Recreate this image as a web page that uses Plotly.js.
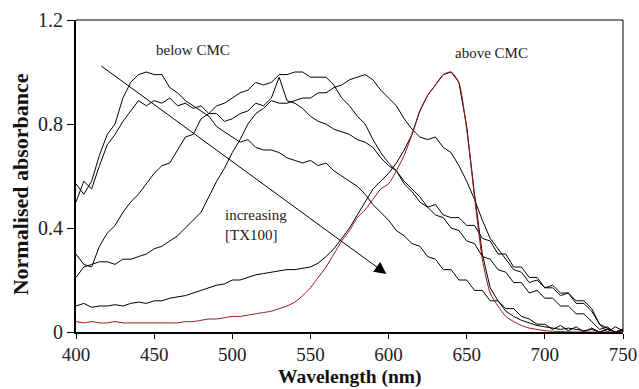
<!DOCTYPE html>
<html>
<head>
<meta charset="utf-8">
<script src="https://cdn.plot.ly/plotly-3.0.1.min.js"></script>
<style>html,body{margin:0;padding:0;background:#fff;}#chart{width:639px;height:389px;}</style>
</head>
<body>
<div id="chart"></div>
<script>
// Wavelength grid (nm)
const wavelength = [400,405,410,415,420,425,430,435,440,445,450,455,460,465,470,475,480,485,490,495,500,505,510,515,520,525,530,535,540,545,550,555,560,565,570,575,580,585,590,595,600,605,610,615,620,625,630,635,640,645,650,655,660,665,670,675,680,685,690,695,700,705,710,715,720,725,730,735,740,745,750];

// Normalised absorbance, below CMC -> above CMC (increasing [TX100])
const seriesA = [0.57,0.53,0.58,0.68,0.76,0.80,0.90,0.96,0.99,1.00,0.99,0.99,0.94,0.92,0.89,0.87,0.85,0.83,0.79,0.77,0.75,0.73,0.74,0.71,0.70,0.70,0.69,0.67,0.66,0.65,0.66,0.64,0.65,0.62,0.60,0.58,0.56,0.53,0.49,0.46,0.43,0.39,0.37,0.34,0.33,0.29,0.28,0.24,0.24,0.20,0.20,0.16,0.16,0.12,0.12,0.09,0.09,0.06,0.05,0.03,0.03,0.01,0.025,0.005,0.02,0.0,0.015,0.0,0.012,0.0,0.01];
const seriesB = [0.50,0.58,0.55,0.64,0.72,0.76,0.81,0.85,0.89,0.87,0.89,0.88,0.90,0.87,0.88,0.86,0.87,0.84,0.84,0.81,0.82,0.84,0.85,0.88,0.87,0.90,0.98,0.89,0.88,0.86,0.83,0.81,0.80,0.78,0.77,0.76,0.74,0.73,0.71,0.67,0.64,0.62,0.57,0.54,0.50,0.48,0.45,0.44,0.40,0.39,0.35,0.34,0.29,0.28,0.24,0.23,0.19,0.19,0.15,0.16,0.13,0.13,0.10,0.10,0.07,0.07,0.04,0.01,0.02,-0.005,0.01];
const seriesC = [0.30,0.26,0.25,0.33,0.38,0.41,0.46,0.50,0.53,0.57,0.61,0.64,0.65,0.70,0.75,0.76,0.82,0.84,0.87,0.88,0.90,0.92,0.93,0.96,0.95,0.96,0.99,0.99,1.00,1.00,0.98,0.98,0.98,0.95,0.90,0.87,0.83,0.80,0.74,0.69,0.65,0.62,0.58,0.55,0.52,0.48,0.49,0.45,0.44,0.44,0.41,0.41,0.36,0.35,0.30,0.30,0.25,0.25,0.21,0.21,0.17,0.17,0.14,0.15,0.11,0.11,0.08,0.03,0.0,0.02,0.005];
const seriesD = [0.21,0.25,0.26,0.27,0.27,0.26,0.28,0.28,0.29,0.30,0.32,0.33,0.35,0.37,0.40,0.43,0.46,0.52,0.58,0.63,0.69,0.74,0.80,0.84,0.86,0.89,0.88,0.88,0.89,0.90,0.90,0.92,0.92,0.94,0.95,0.97,0.98,0.99,0.97,0.93,0.90,0.87,0.82,0.78,0.75,0.74,0.75,0.71,0.69,0.64,0.58,0.51,0.43,0.36,0.32,0.28,0.24,0.23,0.19,0.20,0.17,0.18,0.15,0.15,0.12,0.12,0.09,0.03,0.015,0.0,0.005];
const seriesE = [0.10,0.11,0.095,0.10,0.10,0.105,0.10,0.11,0.115,0.11,0.12,0.12,0.13,0.135,0.14,0.15,0.16,0.17,0.18,0.185,0.20,0.20,0.21,0.22,0.225,0.23,0.235,0.24,0.24,0.245,0.25,0.265,0.29,0.32,0.36,0.40,0.45,0.50,0.55,0.58,0.61,0.65,0.70,0.76,0.85,0.91,0.95,0.99,1.00,0.96,0.79,0.53,0.30,0.17,0.12,0.08,0.06,0.045,0.035,0.025,0.02,0.015,0.01,0.015,0.01,0.005,0.01,0.0,0.01,0.0,0.01];
const seriesAbove = [0.04,0.035,0.04,0.035,0.035,0.04,0.035,0.035,0.035,0.035,0.035,0.035,0.035,0.035,0.04,0.04,0.045,0.05,0.05,0.055,0.06,0.06,0.065,0.07,0.075,0.08,0.09,0.10,0.115,0.14,0.17,0.21,0.25,0.30,0.35,0.39,0.44,0.47,0.51,0.55,0.57,0.62,0.68,0.76,0.85,0.91,0.95,0.99,1.00,0.96,0.78,0.52,0.28,0.15,0.10,0.06,0.04,0.025,0.015,0.01,0.005,0.003,0.002,0.001,0.0,0.0,0.0,0.0,0.0,0.0,0.0];

const xTicks = [400,450,500,550,600,650,700,750];
const yTicks = [0,0.4,0.8,1.2];
const yTickText = ['0','0.4','0.8','1.2'];

const serif = 'Liberation Serif';
const blackSeries = [seriesA, seriesB, seriesC, seriesD, seriesE];
const traces = blackSeries.map(s => ({
  x: wavelength, y: s, type: 'scatter', mode: 'lines',
  line: {color: '#000', width: 1}, hoverinfo: 'skip', showlegend: false
}));
traces.push({
  x: wavelength, y: seriesAbove, type: 'scatter', mode: 'lines',
  line: {color: '#a01010', width: 1, shape: 'spline', smoothing: 0.6}, hoverinfo: 'skip', showlegend: false
});

const layout = {
  width: 639, height: 389,
  margin: {l: 76, r: 16, t: 20, b: 57},
  paper_bgcolor: '#fff', plot_bgcolor: '#fff',
  showlegend: false,
  font: {family: serif},
  xaxis: {
    range: [400, 750], tickvals: xTicks, ticks: 'outside', ticklen: 5, tickwidth: 1, tickcolor: '#000',
    showline: true, linecolor: '#000', linewidth: 1.5, showgrid: false, zeroline: false,
    tickfont: {family: serif, size: 19, color: '#222'}
  },
  yaxis: {
    range: [0, 1.2], tickvals: yTicks, ticktext: yTickText, ticks: 'outside', ticklen: 7, tickwidth: 1, tickcolor: '#000',
    showline: true, linecolor: '#000', linewidth: 2, showgrid: false, zeroline: false,
    tickfont: {family: serif, size: 20, color: '#222'}
  },
  shapes: [
    {type: 'line', xref: 'paper', yref: 'paper', x0: 0, x1: 1, y0: 1, y1: 1, line: {color: '#000', width: 1}},
    {type: 'line', xref: 'paper', yref: 'paper', x0: 1, x1: 1, y0: 0, y1: 1, line: {color: '#000', width: 1}}
  ],
  annotations: [
    {x: 0.5, y: -0.1458, xref: 'paper', yref: 'paper', text: '<b>Wavelength (nm)</b>',
     showarrow: false, xanchor: 'center', yanchor: 'middle', borderpad: 0, font: {family: serif, size: 19.5, color: '#111'}},
    {x: -0.102, y: 0.474, xref: 'paper', yref: 'paper', text: '<b>Normalised absorbance</b>', textangle: -90,
     showarrow: false, xanchor: 'center', yanchor: 'middle', font: {family: serif, size: 22, color: '#111'}},
    {x: 474.7, y: 1.085, xref: 'x', yref: 'y', text: 'below CMC', showarrow: false,
     font: {family: serif, size: 15, color: '#222'}},
    {x: 666, y: 1.073, xref: 'x', yref: 'y', text: 'above CMC', showarrow: false,
     font: {family: serif, size: 15, color: '#222'}},
    {x: 494, y: 0.41, xref: 'x', yref: 'y', text: 'increasing<br>[TX100]', showarrow: false, xanchor: 'left', align: 'left',
     font: {family: serif, size: 15, color: '#222'}},
    {x: 598.6, y: 0.223, ax: 415.3, ay: 1.027, xref: 'x', yref: 'y', axref: 'x', ayref: 'y', text: '',
     showarrow: true, arrowhead: 2, arrowsize: 2.4, arrowwidth: 1, arrowcolor: '#000', standoff: 0}
  ]
};

Plotly.newPlot('chart', traces, layout, {staticPlot: true, displayModeBar: false});
</script>
</body>
</html>
